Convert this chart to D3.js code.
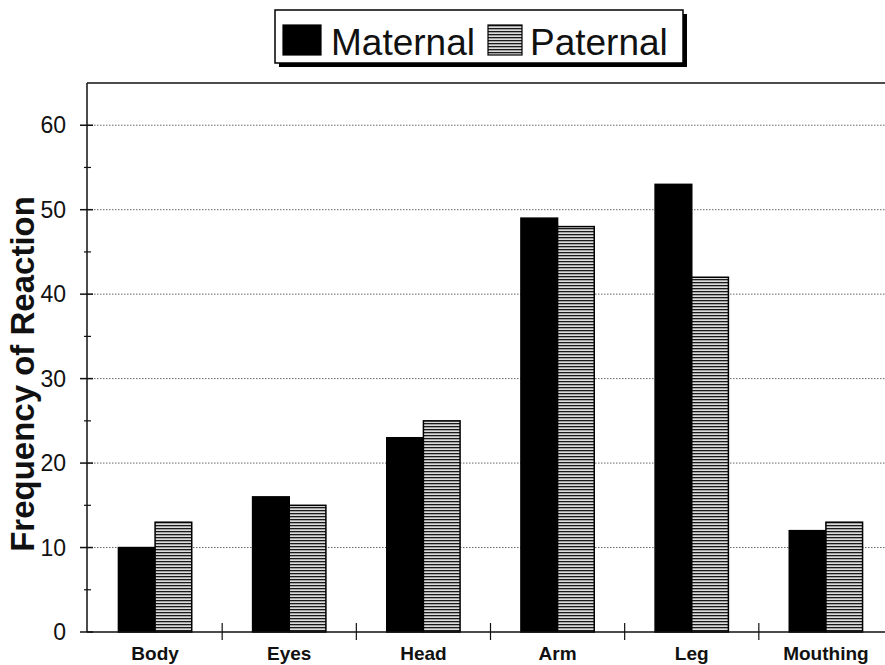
<!DOCTYPE html>
<html lang="en">
<head>
  <meta charset="UTF-8">
  <title>Frequency of Reaction</title>
  <style>
    body { margin: 0; background: #fff; }
    text { font-family: Arial, "Liberation Sans", sans-serif; }
  </style>
</head>
<body>
  <svg id="svg" width="885" height="665"></svg>

  <script src="https://d3js.org/d3.v7.min.js"></script>
  <script>
    const categories = ["Body", "Eyes", "Head", "Arm", "Leg", "Mouthing"]
    const series = ["Maternal", "Paternal"]
    const maternal = [10, 16, 23, 49, 53, 12]
    const paternal = [13, 15, 25, 48, 42, 13]
    const yTicks = [0, 10, 20, 30, 40, 50, 60]
    const yMinor = [5, 15, 25, 35, 45, 55]

    const svg = d3.select("#svg")

    // striped fill for paternal bars
    const defs = svg.append("defs")
    const pat = defs.append("pattern")
      .attr("id", "stripes")
      .attr("patternUnits", "userSpaceOnUse")
      .attr("width", 6)
      .attr("height", 3)
    pat.append("rect").attr("width", 6).attr("height", 3).attr("fill", "#dcdcdc")
    pat.append("rect").attr("y", 0).attr("width", 6).attr("height", 1.3).attr("fill", "#1a1a1a")

    const x = d3.scaleBand()
      .domain(categories)
      .range([88, 893])
      .paddingInner(0)

    const xSub = d3.scaleBand()
      .domain(series)
      .range([0, x.bandwidth()])
      .paddingInner(0)
      .paddingOuter(0.83)

    const y = d3.scaleLinear()
      .domain([0, 65])
      .range([632, 83])

    // gridlines
    svg.append("g")
      .selectAll("line")
      .data(yTicks.filter(d => d > 0))
      .enter()
      .append("line")
      .attr("x1", 88)
      .attr("x2", 885)
      .attr("y1", d => y(d))
      .attr("y2", d => y(d))
      .attr("stroke", "#666")
      .attr("stroke-width", 1)
      .attr("stroke-dasharray", "1.5,1.5")

    // top frame line
    svg.append("line")
      .attr("x1", 87).attr("x2", 885)
      .attr("y1", y(65)).attr("y2", y(65))
      .attr("stroke", "#111").attr("stroke-width", 1.5)

    // bars
    const rows = categories.map((c, i) => ({ cat: c, values: [maternal[i], paternal[i]] }))
    const groups = svg.append("g")
      .selectAll("g")
      .data(rows)
      .enter()
      .append("g")
      .attr("transform", d => `translate(${x(d.cat)},0)`)

    groups.selectAll("rect")
      .data(d => series.map((s, j) => ({ s, v: d.values[j] })))
      .enter()
      .append("rect")
      .attr("x", d => xSub(d.s))
      .attr("width", xSub.bandwidth())
      .attr("y", d => y(d.v))
      .attr("height", d => y(0) - y(d.v))
      .attr("fill", d => d.s === "Maternal" ? "#000" : "url(#stripes)")
      .attr("stroke", "#000")
      .attr("stroke-width", 1.5)

    // y axis
    const yAxis = svg.append("g")
    yAxis.append("line")
      .attr("x1", 87).attr("x2", 87)
      .attr("y1", y(65)).attr("y2", y(0))
      .attr("stroke", "#111").attr("stroke-width", 1.5)
    yAxis.selectAll(".major")
      .data(yTicks)
      .enter()
      .append("line")
      .attr("x1", 80).attr("x2", 93)
      .attr("y1", d => y(d)).attr("y2", d => y(d))
      .attr("stroke", "#111").attr("stroke-width", 1.5)
    yAxis.selectAll(".minor")
      .data(yMinor)
      .enter()
      .append("line")
      .attr("x1", 84).attr("x2", 91)
      .attr("y1", d => y(d)).attr("y2", d => y(d))
      .attr("stroke", "#111").attr("stroke-width", 1.2)
    yAxis.selectAll("text")
      .data(yTicks)
      .enter()
      .append("text")
      .text(d => d)
      .attr("x", 66)
      .attr("y", d => y(d) + 8)
      .attr("text-anchor", "end")
      .style("font-size", "23px")
      .style("fill", "#111")

    // x axis
    const xAxis = svg.append("g")
    xAxis.append("line")
      .attr("x1", 87).attr("x2", 885)
      .attr("y1", y(0)).attr("y2", y(0))
      .attr("stroke", "#111").attr("stroke-width", 1.5)
    xAxis.selectAll(".tick")
      .data(categories.slice(1))
      .enter()
      .append("line")
      .attr("x1", d => x(d)).attr("x2", d => x(d))
      .attr("y1", y(0) - 9).attr("y2", y(0) + 8)
      .attr("stroke", "#111").attr("stroke-width", 1.2)
    xAxis.selectAll("text")
      .data(categories)
      .enter()
      .append("text")
      .text(d => d)
      .attr("x", d => x(d) + x.bandwidth() / 2)
      .attr("y", 660)
      .attr("text-anchor", "middle")
      .style("font-size", "19px")
      .style("font-weight", "bold")
      .style("fill", "#111")

    // y axis title
    svg.append("text")
      .text("Frequency of Reaction")
      .attr("transform", "translate(34,374) rotate(-90)")
      .attr("text-anchor", "middle")
      .style("font-size", "33px")
      .style("font-weight", "bold")
      .style("fill", "#111")

    // legend
    const legend = svg.append("g")
    legend.append("rect")
      .attr("x", 279).attr("y", 14)
      .attr("width", 408).attr("height", 53)
      .attr("fill", "#000")
    legend.append("rect")
      .attr("x", 275).attr("y", 10)
      .attr("width", 408).attr("height", 53)
      .attr("fill", "#fff")
      .attr("stroke", "#000")
      .attr("stroke-width", 1.5)

    const legendX = d3.scaleOrdinal().domain(series).range([283, 488])
    const legendItems = legend.selectAll(".item")
      .data(series)
      .enter()
      .append("g")
      .attr("transform", d => `translate(${legendX(d)},25)`)
    legendItems.append("rect")
      .attr("width", d => d === "Maternal" ? 38 : 34)
      .attr("height", 30)
      .attr("fill", d => d === "Maternal" ? "#000" : "url(#stripes)")
      .attr("stroke", "#000")
      .attr("stroke-width", 1.2)
    legendItems.append("text")
      .text(d => d)
      .attr("x", d => d === "Maternal" ? 48 : 42)
      .attr("y", 30)
      .style("font-size", "37px")
      .style("fill", "#111")
  </script>
</body>
</html>
